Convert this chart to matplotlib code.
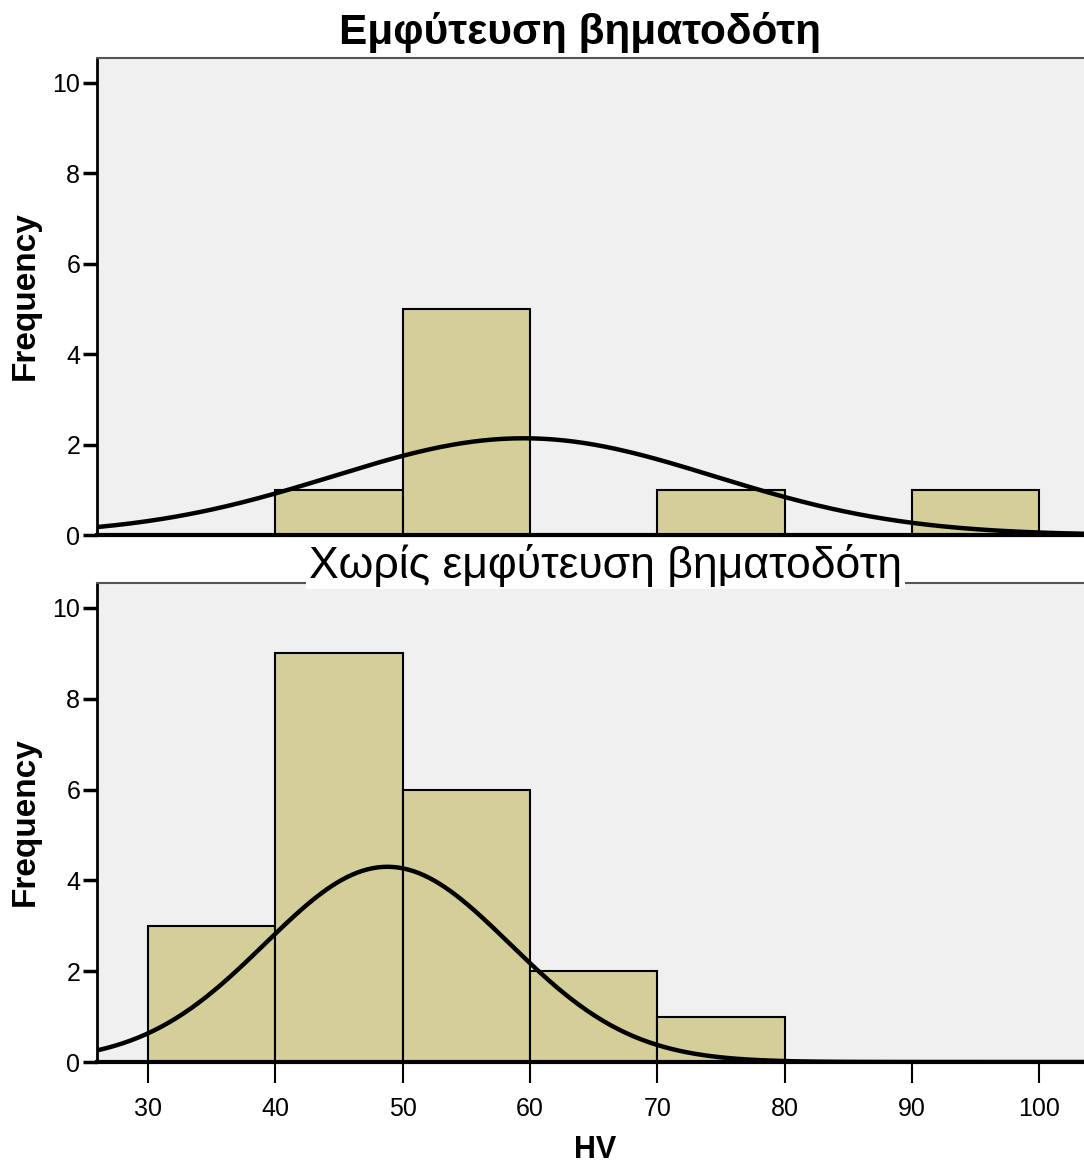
import matplotlib.pyplot as plt
import numpy as np

# histogram data (bin edges of 10 HV)
bin_left = [30, 40, 50, 60, 70, 80, 90]
with_pacer = [0, 1, 5, 0, 1, 0, 1]
without_pacer = [3, 9, 6, 2, 1, 0, 0]

# fitted normal curves: mean, sd, peak height
with_fit = (59.5, 15.0, 2.14)
without_fit = (48.8, 9.6, 4.3)

titles = ["Εμφύτευση βηματοδότη", "Χωρίς εμφύτευση βηματοδότη"]
x_ticks = [30, 40, 50, 60, 70, 80, 90, 100]
y_ticks = [0, 2, 4, 6, 8, 10]

bar_color = "#d4cf98"
bg_color = "#f0f0f0"
font = "Liberation Sans"


def draw_panel(ax, counts, fit):
    ax.set_facecolor(bg_color)
    ax.bar(bin_left, counts, width=10, align="edge", color=bar_color,
           edgecolor="black", linewidth=1.5, zorder=2)
    xs = np.linspace(25, 105, 400)
    mu, sd, peak = fit
    ax.plot(xs, peak * np.exp(-(xs - mu) ** 2 / (2 * sd ** 2)),
            color="black", lw=3.2, zorder=3)
    ax.set_xlim(26, 103.5)
    ax.set_ylim(0, 10.55)
    ax.set_yticks(y_ticks)
    ax.set_xticks(x_ticks)
    ax.spines["right"].set_visible(False)
    ax.spines["top"].set_color("#555555")
    ax.spines["top"].set_linewidth(1.5)
    ax.spines["left"].set_linewidth(2)
    ax.spines["bottom"].set_linewidth(3)
    ax.tick_params(axis="y", direction="out", length=10, width=2.5,
                   labelsize=18, pad=2)
    ax.tick_params(axis="x", direction="out", length=15, width=1.5,
                   labelsize=18, pad=10)
    for lab in ax.get_xticklabels() + ax.get_yticklabels():
        lab.set_fontfamily(font)


fig = plt.figure(figsize=(10.84, 11.69), dpi=100)
ax1 = fig.add_axes([0.0895, 0.5423, 0.9105, 0.4081])
ax2 = fig.add_axes([0.0895, 0.0915, 0.9105, 0.4098])

draw_panel(ax1, with_pacer, with_fit)
draw_panel(ax2, without_pacer, without_fit)
ax1.tick_params(axis="x", length=0, labelbottom=False)

for yc in [1 - 296 / 1169, 1 - 822 / 1169]:
    fig.text(25 / 1084, yc, "Frequency", rotation=90, ha="center",
             va="center", fontsize=24, fontweight="bold", fontfamily=font)

fig.text(0.5355, 0.9726, titles[0], ha="center", va="center",
         fontsize=30.5, fontweight="bold", fontfamily=font)
fig.text(0.5586, 0.5165, titles[1], ha="center", va="center",
         fontsize=32, fontfamily=font, zorder=10,
         bbox=dict(facecolor="white", edgecolor="none", pad=2))
fig.text(0.549, 0.016, "HV", ha="center", va="center",
         fontsize=22, fontweight="bold", fontfamily=font)

fig.savefig("out.png", dpi=100, facecolor="white")
